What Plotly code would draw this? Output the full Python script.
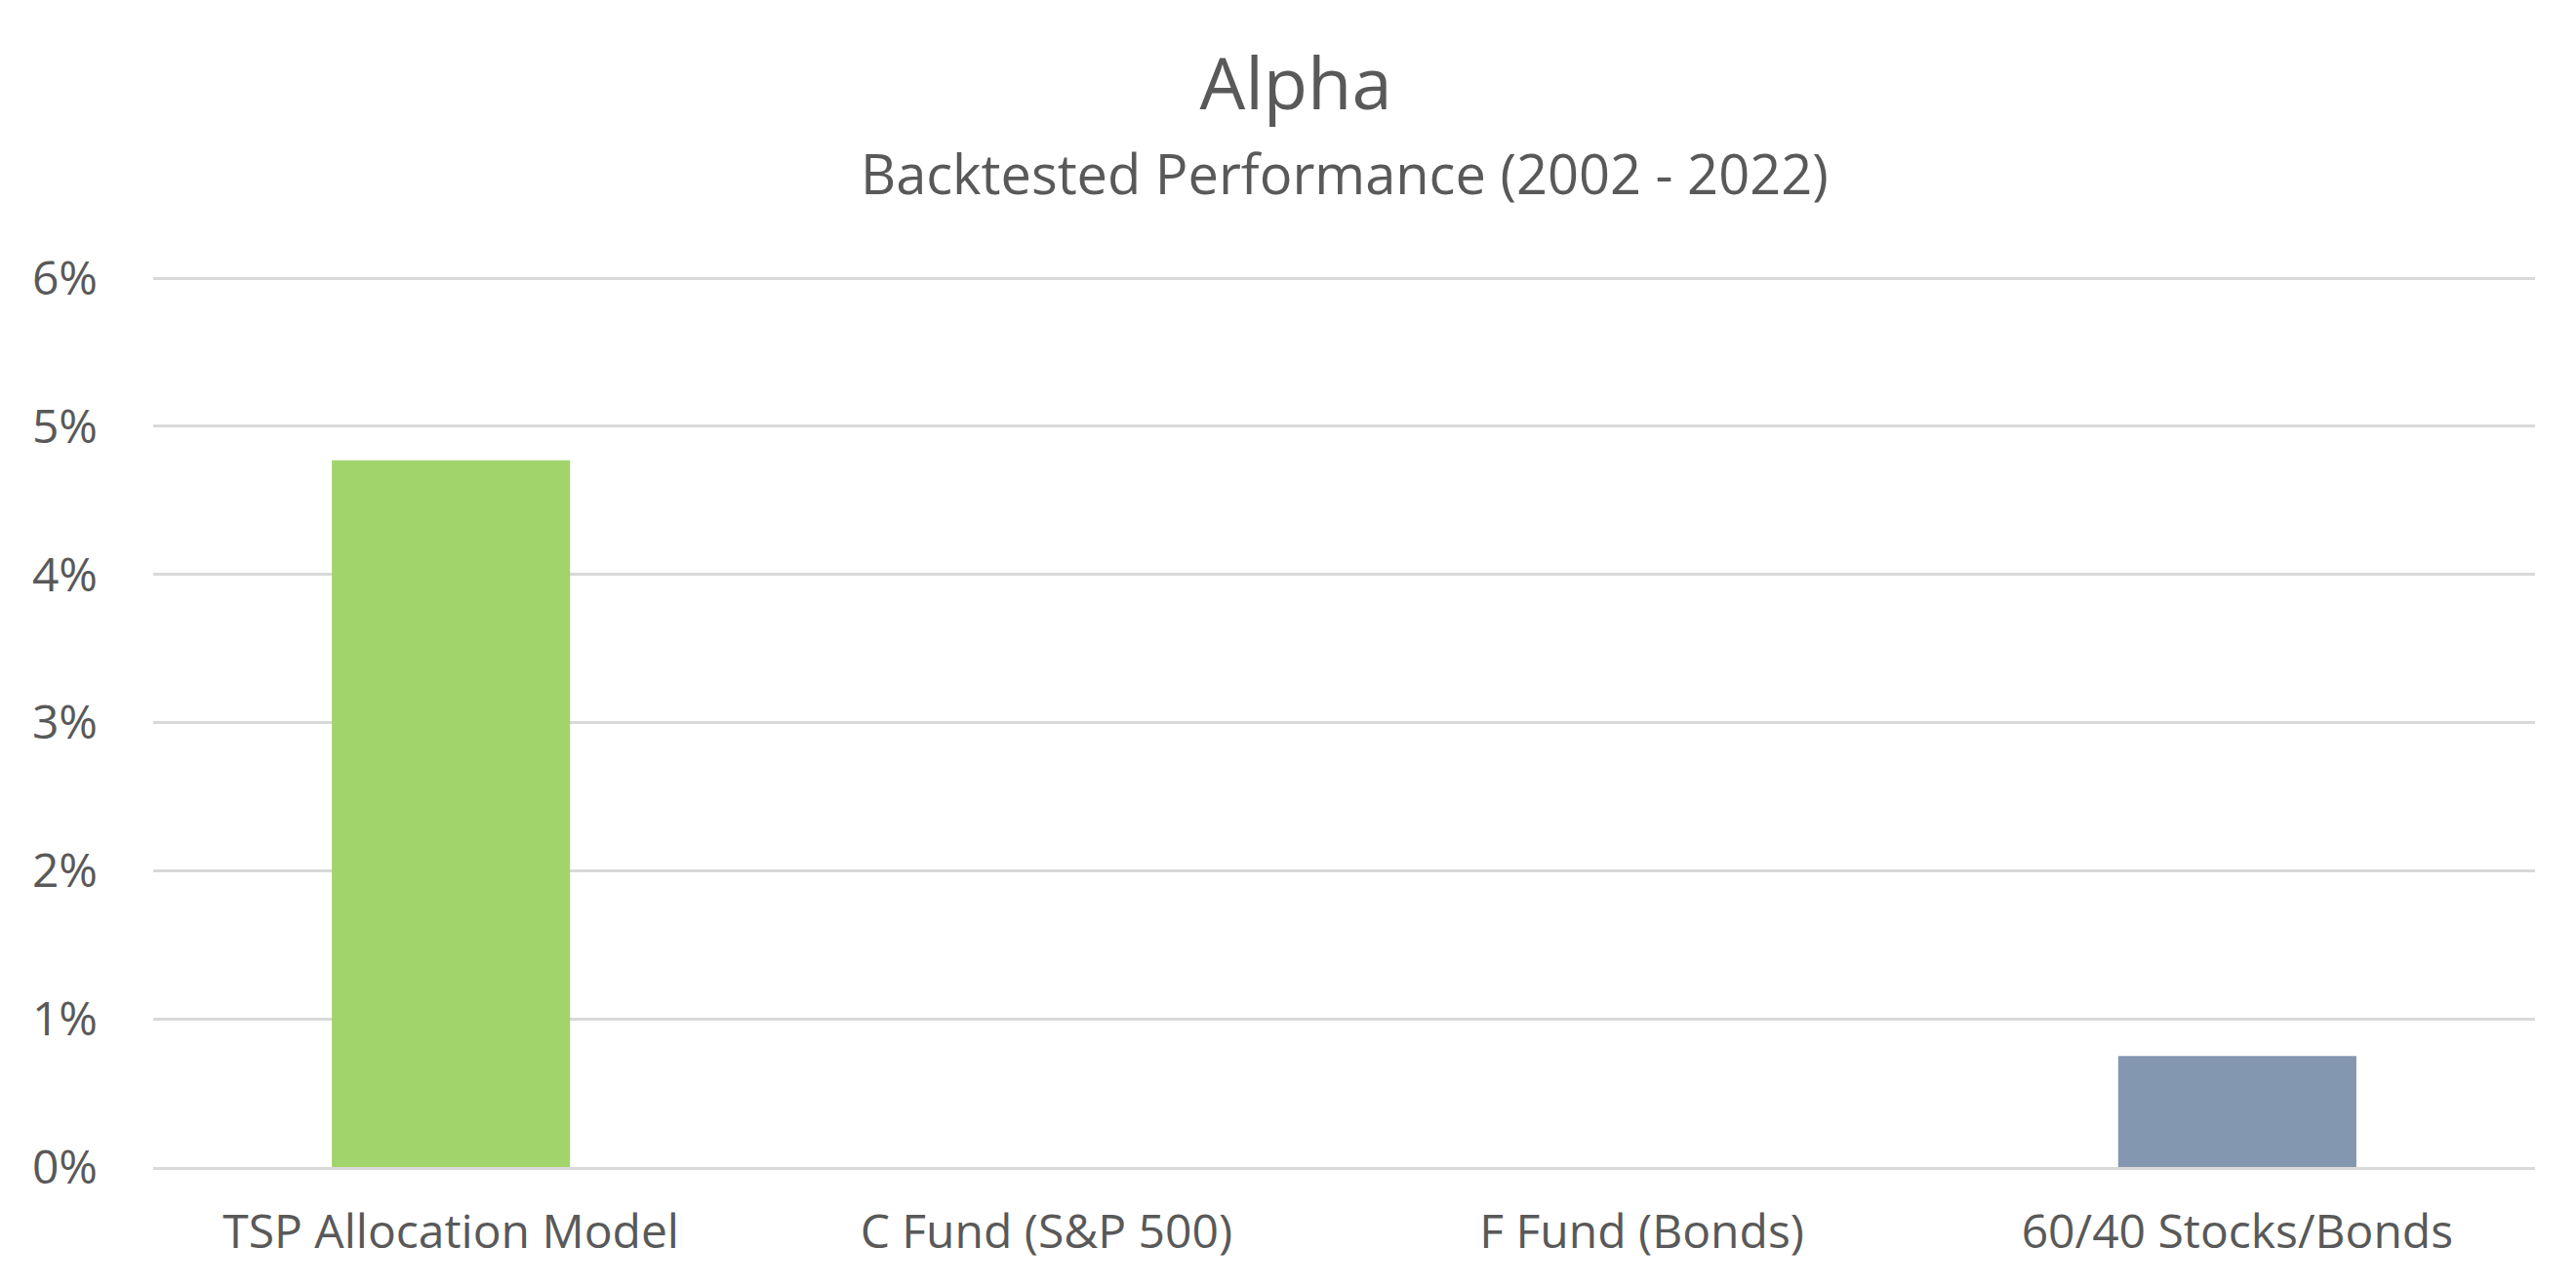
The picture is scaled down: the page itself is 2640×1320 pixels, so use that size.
import plotly.graph_objects as go

categories = ['TSP Allocation Model', 'C Fund (S&P 500)', 'F Fund (Bonds)', '60/40 Stocks/Bonds']
alpha_pct = [4.77, 0, 0, 0.75]
bar_colors = ['#A1D46A', '#A1D46A', '#A1D46A', '#8497B0']
y_ticks = [0, 1, 2, 3, 4, 5, 6]
y_tick_labels = ['0%', '1%', '2%', '3%', '4%', '5%', '6%']

txt = '#595959'
font_name = 'Open Sans'

fig = go.Figure()

fig.add_trace(go.Bar(x = categories, y = alpha_pct,
                     marker = dict(color = bar_colors, line = dict(width = 0)),
                     showlegend = False, hoverinfo = 'skip'))

# a little headroom above 6% so plotly keeps the top grid line
fig.update_layout(
    width = 2640, height = 1320,
    paper_bgcolor = 'white', plot_bgcolor = 'white',
    margin = dict(l = 149, r = 50, t = 274, b = 132),
    bargap = 0.6,
    font = dict(family = font_name, color = txt, size = 48),
    title = dict(text = 'Alpha', x = 0.5, xanchor = 'center', xref = 'container',
                 y = 1 - 78 / 1320, yanchor = 'middle', yref = 'container',
                 font = dict(family = font_name, size = 74, color = txt)),
)

fig.add_annotation(text = 'Backtested Performance (2002 - 2022)',
                   xref = 'paper', yref = 'paper', x = 0.5, y = 1 + (274 - 169) / 914,
                   xanchor = 'center', yanchor = 'middle', showarrow = False,
                   font = dict(family = font_name, size = 56, color = txt))

fig.update_yaxes(range = [0, 6.02], tickvals = y_ticks, ticktext = y_tick_labels,
                 showgrid = True, gridcolor = '#D9D9D9', gridwidth = 3,
                 zeroline = False, showline = False, ticks = '',
                 ticklabelstandoff = 56,
                 tickfont = dict(family = font_name, size = 48, color = txt))

fig.update_xaxes(showgrid = False, showline = True, linecolor = '#D9D9D9', linewidth = 3,
                 ticks = '', ticklabelstandoff = 22,
                 tickfont = dict(family = font_name, size = 48, color = txt))

fig.write_html("out.html")
